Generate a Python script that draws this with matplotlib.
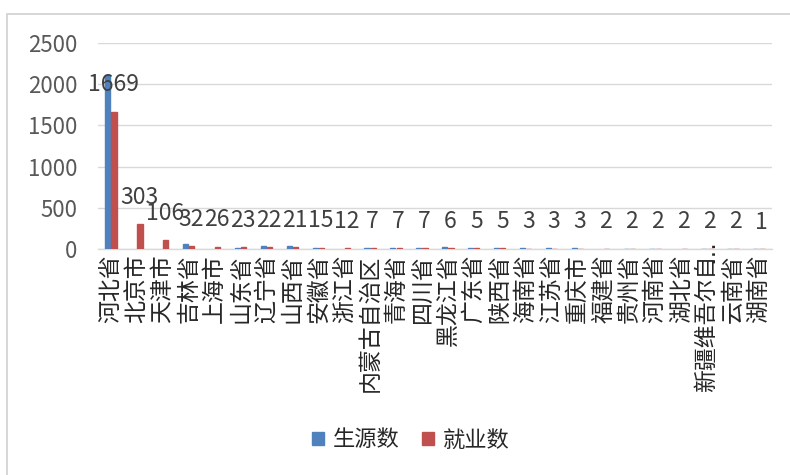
import matplotlib
matplotlib.use('Agg')
import matplotlib.pyplot as plt
import numpy as np
from matplotlib.patches import Rectangle

plt.rcParams['font.family'] = ['Noto Sans CJK SC', 'DejaVu Sans']

provinces = ['河北省', '北京市', '天津市', '吉林省', '上海市', '山东省', '辽宁省',
             '山西省', '安徽省', '浙江省', '内蒙古自治区', '青海省', '四川省',
             '黑龙江省', '广东省', '陕西省', '海南省', '江苏省', '重庆市', '福建省',
             '贵州省', '河南省', '湖北省', '新疆维吾尔自', '云南省', '湖南省']
# 生源数 (no labels shown)
students = [2112, 0, 0, 60, 0, 15, 35, 35, 15, 0, 8, 9, 10,
            25, 8, 7, 5, 6, 5, 0, 4, 4, 0, 4, 4, 3]
# 就业数 (labelled)
employed = [1669, 303, 106, 32, 26, 23, 22, 21, 15, 12, 7, 7, 7,
            6, 5, 5, 3, 3, 3, 2, 2, 2, 2, 2, 2, 1]

blue = '#4f81bd'
red = '#c0504d'
grid_c = '#d9d9d9'

fig = plt.figure(figsize=(7.9, 4.75), dpi=100)
ax = fig.add_axes([0.124, 0.476, 0.853, 0.433])

# light outer frame of the chart area
fig.patches.append(Rectangle((7 / 790, -0.1), 1.2, 1 - 14 / 475 + 0.1,
                             transform=fig.transFigure, fill=False,
                             edgecolor='#d0d0d0', linewidth=1.2))

x = np.arange(len(provinces))
w = 0.2
# thin edge so the tiny values still show as a 1px dash, like Excel does
ax.bar(x - w / 2 - 0.02, students, width=w, color=blue, label='生源数', zorder=3,
       edgecolor=[blue if v > 0 else 'none' for v in students], linewidth=1.0)
ax.bar(x + w / 2 + 0.02, employed, width=w, color=red, label='就业数', zorder=3,
       edgecolor=red, linewidth=1.0)

for xi, v in zip(x, employed):
    ax.annotate(str(v), (xi + 0.1, v), xytext=(0, 11), textcoords='offset points',
                ha='center', va='bottom', fontsize=16.5, color='#404040')

ax.set_xlim(-0.5, len(provinces) - 0.5)
ax.set_ylim(0, 2500)
ax.set_yticks(np.arange(0, 2501, 500))
ax.yaxis.grid(True, color=grid_c, linewidth=1, zorder=0)
for s in ['top', 'right', 'left']:
    ax.spines[s].set_visible(False)
ax.spines['bottom'].set_color(grid_c)
ax.spines['bottom'].set_linewidth(1)
ax.tick_params(axis='y', length=0, pad=15, labelsize=16, labelcolor='#595959')
ax.tick_params(axis='x', length=0, pad=4)
ax.set_xticks(x)
ax.set_xticklabels(provinces, rotation=90, fontsize=16.5, color='#262626',
                   va='top', ha='center')

# truncated label's ellipsis spills over the axis line
ax.annotate('…', (23, 0), xytext=(0, -2), textcoords='offset points', rotation=90,
            ha='center', va='center', fontsize=16.5, color='#262626',
            family='DejaVu Sans', annotation_clip=False)

fig.legend(loc='center', bbox_to_anchor=(0.52, 1 - 440 / 475), ncol=2, frameon=False,
           fontsize=16, handlelength=0.55, handleheight=0.55, handletextpad=0.4,
           columnspacing=1.0, labelcolor='#262626')

fig.savefig('out.png', dpi=100)
